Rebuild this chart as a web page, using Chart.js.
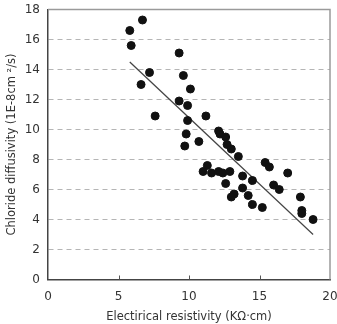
<!DOCTYPE html>
<html>
<head>
<meta charset="utf-8">
<script src="https://cdn.jsdelivr.net/npm/chart.js@4.4.1/dist/chart.umd.min.js"></script>
<style>
  html, body { margin: 0; padding: 0; background: #fff; }
  #wrap { width: 337px; height: 324px; }
</style>
</head>
<body>
<div id="wrap"><canvas id="grafico"></canvas></div>
<script>
// Datos
const resistividad = [5.8, 5.9, 6.7, 6.6, 7.2, 7.6,
    9.3, 9.6, 10.1, 9.3, 9.9, 9.9, 11.2, 9.8, 9.7, 10.7,
    12.1, 12.2, 12.6, 12.7, 13.0, 13.5,
    15.4, 15.7, 17.0, 11.3, 11.0, 11.6, 12.1, 12.4, 12.9,
    12.6, 13.8, 14.5, 13.8, 16.0, 16.4, 13.2, 13.0, 14.2,
    14.5, 15.2, 17.9, 18.0, 18.0, 18.8];
const difusividad = [16.6, 15.6, 17.3, 13.0, 13.8, 10.9,
    15.1, 13.6, 12.7, 11.9, 11.6, 10.6, 10.9, 9.7, 8.9, 9.2,
    9.9, 9.7, 9.5, 9.0, 8.7, 8.2,
    7.8, 7.5, 7.1, 7.6, 7.2, 7.1, 7.2, 7.1, 7.2,
    6.4, 6.9, 6.6, 6.1, 6.3, 6.0, 5.7, 5.5, 5.6,
    5.0, 4.8, 5.5, 4.6, 4.4, 4.0];

// Recta de tendencia
const tendenciaX = [5.8, 18.8];
const tendenciaY = [14.5, 3.0];

const ticksX = [0, 5, 10, 15, 20];
const ticksY = [0, 2, 4, 6, 8, 10, 12, 14, 16, 18];

const fuente = 'DejaVu Sans';

// Marco del área de trazado y marcas del eje X hacia dentro
const marco = {
    id: 'marco',
    afterDraw(chart) {
        const { ctx, chartArea: a, scales } = chart;
        ctx.save();
        ctx.strokeStyle = '#9a9a9a';
        ctx.lineWidth = 1.5;
        ctx.beginPath();
        ctx.moveTo(a.left, a.top);
        ctx.lineTo(a.right, a.top);
        ctx.lineTo(a.right, a.bottom);
        ctx.stroke();
        ctx.strokeStyle = '#555';
        ctx.lineWidth = 1;
        ticksX.slice(1, -1).forEach(v => {
            const x = Math.round(scales.x.getPixelForValue(v)) + 0.5;
            ctx.beginPath();
            ctx.moveTo(x, a.bottom);
            ctx.lineTo(x, a.bottom - 4);
            ctx.stroke();
        });
        ctx.restore();
    }
};

new Chart(document.getElementById('grafico'), {
    type: 'scatter',
    data: {
        datasets: [
            {
                label: 'Datos',
                data: resistividad.map((x, i) => ({ x: x, y: difusividad[i] })),
                backgroundColor: '#111',
                borderColor: '#111',
                pointRadius: 4,
                pointHoverRadius: 4
            },
            {
                label: 'Tendencia',
                data: tendenciaX.map((x, i) => ({ x: x, y: tendenciaY[i] })),
                type: 'line',
                showLine: true,
                borderColor: '#444',
                borderWidth: 1.2,
                pointRadius: 0,
                fill: false
            }
        ]
    },
    options: {
        responsive: true,
        maintainAspectRatio: false,
        animation: false,
        layout: { padding: { top: 9.5, right: 7, left: 5, bottom: 0 } },
        plugins: {
            legend: { display: false },
            tooltip: { enabled: false }
        },
        scales: {
            x: {
                type: 'linear',
                min: 0,
                max: 20,
                afterBuildTicks: s => { s.ticks = ticksX.map(v => ({ value: v })); },
                afterFit: s => { s.height = 44.5; s.paddingLeft = 0; s.paddingRight = 0; },
                grid: { display: false, drawTicks: false },
                border: { display: true, color: '#444', width: 1.5 },
                ticks: { color: '#333', font: { family: fuente, size: 12 }, padding: 10 },
                title: {
                    display: true,
                    text: 'Electirical resistivity (KΩ·cm)',
                    color: '#333',
                    font: { family: fuente, size: 11.5 },
                    padding: { top: 4, bottom: 0 }
                }
            },
            y: {
                type: 'linear',
                min: 0,
                max: 18,
                afterBuildTicks: s => { s.ticks = ticksY.map(v => ({ value: v })); },
                afterFit: s => { s.width = 43; s.paddingTop = 0; s.paddingBottom = 0; },
                grid: {
                    drawTicks: false,
                    color: c => (c.tick.value === 0 || c.tick.value === 18) ? 'rgba(0,0,0,0)' : '#b5b5b5',
                    lineWidth: 1
                },
                border: { display: true, color: '#444', width: 1.5, dash: [5, 4] },
                ticks: { color: '#333', font: { family: fuente, size: 12 }, padding: 8 },
                title: {
                    display: true,
                    text: 'Chloride diffusivity (1E-8cm ²/s)',
                    color: '#333',
                    font: { family: fuente, size: 11.5 },
                    padding: { top: 0, bottom: 4 }
                }
            }
        }
    },
    plugins: [marco]
});
</script>
</body>
</html>
